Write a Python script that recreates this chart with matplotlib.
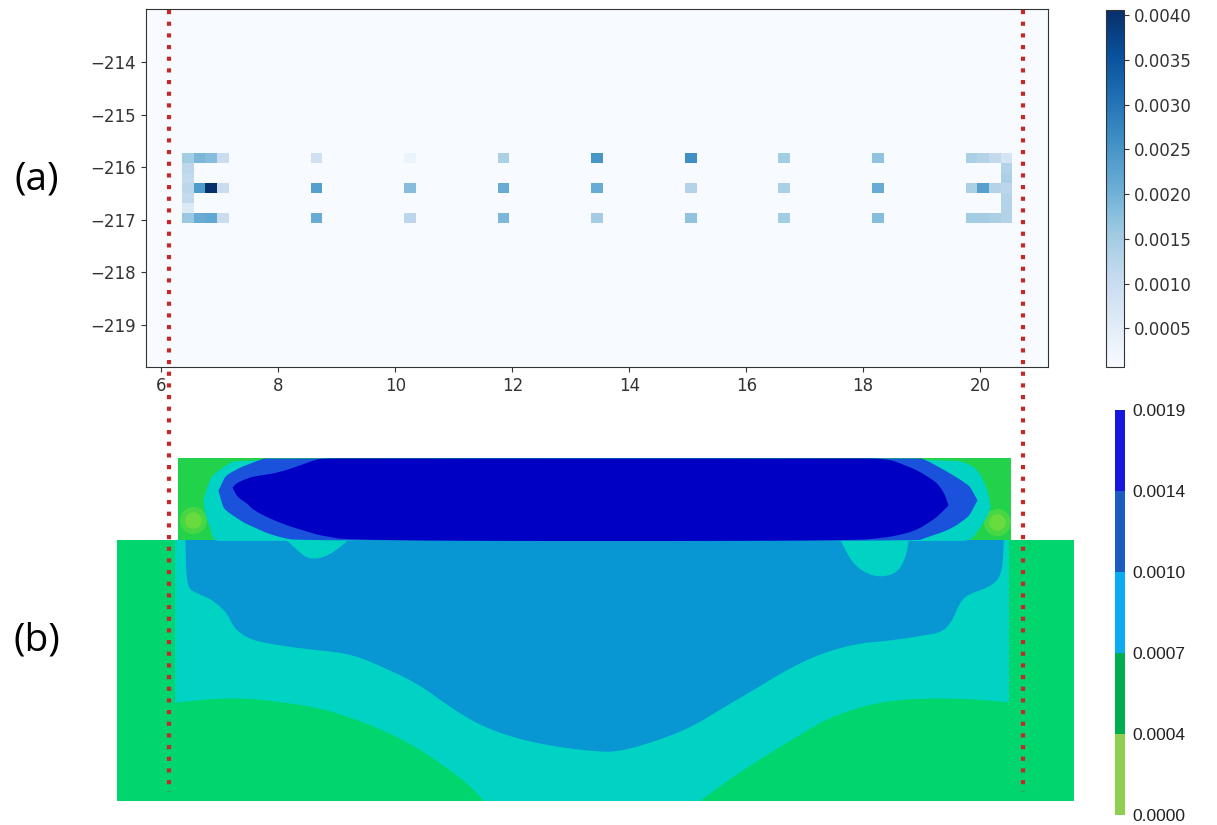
import numpy as np
import matplotlib
matplotlib.use('Agg')
import matplotlib.pyplot as plt
from matplotlib.colors import ListedColormap, BoundaryNorm
from matplotlib.lines import Line2D
from matplotlib.transforms import blended_transform_factory
from matplotlib.ticker import FormatStrFormatter
import matplotlib.cm as cm

# ---------------- (a) measured cells ----------------
row_y = [-215.82, -216.01, -216.20, -216.39, -216.58, -216.77, -216.96]
cell_w = 0.2
row_h = 0.19

# left "E" shaped group (rows top -> bottom, 4 columns)
e_x = [6.45, 6.65, 6.85, 7.05]
e_vals = [[0.0015, 0.0019, 0.0018, 0.0010],
          [0.0012, 0, 0, 0],
          [0.0011, 0, 0, 0],
          [0.0012, 0.0024, 0.0041, 0.0010],
          [0.0011, 0, 0, 0],
          [0.0006, 0, 0, 0],
          [0.0016, 0.0021, 0.0022, 0.0010]]

# single cell columns (top / middle / bottom row)
col_x = [8.65, 10.25, 11.85, 13.45, 15.05, 16.65, 18.25]
col_top = [0.0009, 0.0003, 0.0014, 0.0025, 0.0026, 0.0015, 0.0017]
col_mid = [0.0023, 0.0018, 0.0021, 0.0021, 0.0013, 0.0014, 0.0021]
col_bot = [0.0021, 0.0012, 0.0019, 0.0015, 0.0017, 0.0015, 0.0018]

# right "3" shaped group
three_x = [19.85, 20.05, 20.25, 20.45]
three_vals = [[0.0014, 0.0013, 0.0011, 0.0008],
              [0, 0, 0, 0.0013],
              [0, 0, 0, 0.0014],
              [0.0014, 0.0023, 0.0013, 0.0012],
              [0, 0, 0, 0.0013],
              [0, 0, 0, 0.0013],
              [0.0015, 0.0015, 0.0014, 0.0013]]

heat_vmin, heat_vmax = 0.00007, 0.00406
heat_ticks = [0.0005, 0.0010, 0.0015, 0.0020, 0.0025, 0.0030, 0.0035, 0.0040]

# ---------------- (b) simulated section, region outlines ----------------
lower_x = [5.235, 21.595]
interface_y = 4.44
top_y = 5.85
upper_x = [6.279, 20.532]
strip_l = [5.235, 6.228]
strip_r = [20.49, 21.595]

blue_x = [6.40, 6.416, 6.604, 6.878, 7.117, 7.220, 7.459, 7.802, 8.366, 9.221,
          9.792, 10.369, 10.933, 11.498, 12.354, 13.50, 13.896, 14.477, 15.043,
          15.607, 16.189, 16.754, 17.318, 17.899, 18.464, 19.029, 19.319, 19.490,
          19.610, 19.712, 19.884, 20.123, 20.294, 20.380, 20.397]
blue_bottom = [4.44, 3.644, 3.541, 3.422, 3.199, 2.960, 2.772, 2.686, 2.600, 2.515,
               2.275, 2.002, 1.591, 1.249, 0.975, 0.821, 0.855, 1.027, 1.249,
               1.591, 1.933, 2.275, 2.532, 2.686, 2.737, 2.823, 2.874, 3.028,
               3.302, 3.473, 3.559, 3.644, 3.764, 3.986, 4.44]

dome_l_x = [6.10, 6.364, 6.946, 7.511, 8.076, 8.658, 9.221, 9.792, 10.369, 10.933, 11.224, 11.498]
dome_l_top = [1.660, 1.690, 1.745, 1.745, 1.677, 1.591, 1.420, 1.198, 0.907, 0.513, 0.291, 0.0]
dome_r_x = [15.214, 15.607, 16.189, 16.754, 17.318, 17.899, 18.464, 19.029, 19.610, 20.174, 20.465, 20.60]
dome_r_top = [0.0, 0.291, 0.684, 1.027, 1.369, 1.591, 1.711, 1.745, 1.745, 1.711, 1.677, 1.677]

bump_l_x = [8.144, 8.315, 8.486, 8.708, 8.930, 9.170]
bump_l_bottom = [4.44, 4.277, 4.140, 4.140, 4.243, 4.44]
bump_r_x = [17.609, 17.780, 17.997, 18.293, 18.584, 18.721, 18.772]
bump_r_bottom = [4.44, 4.106, 3.901, 3.815, 3.901, 4.157, 4.44]

teal_x = [6.707, 6.741, 6.826, 6.878, 7.083, 7.288, 19.486, 19.829, 19.948, 20.000, 20.123, 20.174]
teal_top = [5.133, 5.270, 5.509, 5.577, 5.731, 5.85, 5.85, 5.748, 5.646, 5.577, 5.304, 5.013]
teal_bottom = [5.133, 4.876, 4.654, 4.44, 4.44, 4.44, 4.44, 4.44, 4.602, 4.671, 4.876, 5.013]

ring_x = [6.963, 7.032, 7.083, 7.340, 7.425, 7.733, 7.767, 8.024, 8.366, 18.922, 19.024,
          19.486, 19.777, 19.829, 19.948]
ring_top = [5.304, 5.441, 5.560, 5.697, 5.731, 5.85, 5.85, 5.85, 5.85, 5.85, 5.85,
            5.594, 5.406, 5.355, 5.133]
ring_bottom = [5.304, 5.047, 4.962, 4.790, 4.739, 4.602, 4.585, 4.500, 4.44, 4.44, 4.482,
               4.636, 4.842, 4.910, 5.133]

core_x = [7.203, 7.289, 7.459, 7.562, 8.024, 8.589, 8.708, 9.273, 17.742, 18.409, 18.717,
          18.922, 19.145, 19.264, 19.384, 19.452]
core_top = [5.355, 5.441, 5.509, 5.543, 5.612, 5.817, 5.85, 5.85, 5.85, 5.85, 5.731,
            5.646, 5.509, 5.423, 5.252, 5.047]
core_bottom = [5.355, 5.184, 5.081, 4.962, 4.739, 4.568, 4.534, 4.44, 4.44, 4.500, 4.568,
               4.636, 4.773, 4.859, 4.979, 5.047]

spot_x = [6.537, 20.29]
spot_y = [4.79, 4.756]

legend_bounds = [0.0, 0.0004, 0.0007, 0.0010, 0.0014, 0.0019]
legend_colors = ['#8fcf50', '#00ae50', '#0aaeef', '#1b5cc2', '#1616e0']

# dashed guide lines (x in panel (a) units)
guide_x = [6.13, 20.73]

# field colours
c_navy = '#0000c4'
c_ring = '#1a52dc'
c_blue = '#0997d4'
c_teal = '#00d3c3'
c_green = '#00d56e'
c_green_up = '#22d24a'
c_yg = '#8ee03a'


def smooth(x, *ys, n=3):
    # chaikin corner cutting, end points kept
    x = np.asarray(x, float)
    ys = [np.asarray(y, float) for y in ys]
    for _ in range(n):
        nx = [x[0]]
        nys = [[y[0]] for y in ys]
        for i in range(len(x) - 1):
            nx += [0.75 * x[i] + 0.25 * x[i + 1], 0.25 * x[i] + 0.75 * x[i + 1]]
            for k, y in enumerate(ys):
                nys[k] += [0.75 * y[i] + 0.25 * y[i + 1], 0.25 * y[i] + 0.75 * y[i + 1]]
        nx.append(x[-1])
        for k, y in enumerate(ys):
            nys[k].append(y[-1])
        x = np.array(nx)
        ys = [np.array(y) for y in nys]
    return [x] + ys


fig = plt.figure(figsize=(12.17, 8.25), dpi=100)

# ---------------- panel (a) ----------------
ax1 = fig.add_axes([0.1197, 0.5552, 0.7414, 0.4335])
grid = np.zeros((len(row_y), 71))
for r in range(len(row_y)):
    for c, x in enumerate(e_x):
        grid[r, int(round((x - 6.45) / cell_w))] = e_vals[r][c]
    for c, x in enumerate(three_x):
        grid[r, int(round((x - 6.45) / cell_w))] = three_vals[r][c]
for i, x in enumerate(col_x):
    j = int(round((x - 6.45) / cell_w))
    grid[0, j] = col_top[i]
    grid[3, j] = col_mid[i]
    grid[6, j] = col_bot[i]

x_edges = 6.35 + cell_w * np.arange(72)
y_edges = np.array(row_y + [row_y[-1] - row_h]) + row_h / 2
mesh = ax1.pcolormesh(x_edges, y_edges[::-1], np.ma.masked_equal(grid[::-1], 0),
                      cmap='Blues', vmin=heat_vmin, vmax=heat_vmax)
ax1.set_facecolor(plt.cm.Blues(0.0))
ax1.set_xlim(5.73, 21.16)
ax1.set_ylim(-219.8, -213.0)
ax1.set_xticks([6, 8, 10, 12, 14, 16, 18, 20])
ax1.set_yticks([-214, -215, -216, -217, -218, -219])
ax1.tick_params(labelsize=12, colors='#333333')
for s in ax1.spines.values():
    s.set_color('#333333')

cax1 = fig.add_axes([0.9085, 0.5555, 0.0153, 0.4324])
cb1 = fig.colorbar(mesh, cax=cax1, ticks=heat_ticks)
cb1.ax.yaxis.set_major_formatter(FormatStrFormatter('%.4f'))
cb1.ax.tick_params(labelsize=12, colors='#333333')
cb1.outline.set_edgecolor('#333333')

# ---------------- panel (b) ----------------
ax2 = fig.add_axes([0.0961, 0.0303, 0.7858, 0.4145])
ax2.set_xlim(lower_x)
ax2.set_ylim(0, top_y)
ax2.axis('off')

kw = dict(linewidth=0)
base = -0.2  # below the visible bottom, clipped by the axes
ax2.fill_between(lower_x, base, interface_y, color=c_teal, **kw)
ax2.fill_between([strip_l[0] - 0.2, strip_l[1]], base, interface_y, color=c_green, **kw)
ax2.fill_between([strip_r[0], strip_r[1] + 0.2], base, interface_y, color=c_green, **kw)
sx, sy = smooth(dome_l_x, dome_l_top)
ax2.fill_between(sx, base, sy, color=c_green, **kw)
sx, sy = smooth(dome_r_x, dome_r_top)
ax2.fill_between(sx, base, sy, color=c_green, **kw)
sx, sy = smooth(blue_x, blue_bottom)
ax2.fill_between(sx, sy, interface_y + 0.02, color=c_blue, **kw)
sx, sy = smooth(bump_l_x, bump_l_bottom)
ax2.fill_between(sx, sy, interface_y + 0.02, color=c_teal, **kw)
sx, sy = smooth(bump_r_x, bump_r_bottom)
ax2.fill_between(sx, sy, interface_y + 0.02, color=c_teal, **kw)

ax2.fill_between(upper_x, interface_y, top_y + 0.2, color=c_green_up, **kw)
ax2.scatter(spot_x, spot_y, s=380, color=c_yg, alpha=0.35, linewidths=0)
ax2.scatter(spot_x, spot_y, s=140, color=c_yg, alpha=0.5, linewidths=0)
sx, sb, st = smooth(teal_x, teal_bottom, teal_top)
ax2.fill_between(sx, sb, st, color=c_teal, **kw)
sx, sb, st = smooth(ring_x, ring_bottom, ring_top)
ax2.fill_between(sx, sb, st, color=c_ring, **kw)
sx, sb, st = smooth(core_x, core_bottom, core_top)
ax2.fill_between(sx, sb, st, color=c_navy, **kw)

cax2 = fig.add_axes([0.9162, 0.0121, 0.0082, 0.4909])
legend_cmap = ListedColormap(legend_colors)
legend_norm = BoundaryNorm(legend_bounds, legend_cmap.N)
cb2 = fig.colorbar(cm.ScalarMappable(norm=legend_norm, cmap=legend_cmap), cax=cax2,
                   ticks=legend_bounds, spacing='uniform')
cb2.outline.set_visible(False)
cb2.ax.yaxis.set_major_formatter(FormatStrFormatter('%.4f'))
cb2.ax.tick_params(length=0, pad=5, labelsize=12.5, colors='#222222')
for t in cb2.ax.get_yticklabels():
    t.set_fontfamily('Liberation Sans')

# red dotted guide lines through both panels
tr = blended_transform_factory(ax1.transData, fig.transFigure)
for gx in guide_x:
    fig.add_artist(Line2D([gx, gx], [0.988, 0.04], transform=tr, color='#c62828',
                          lw=3, linestyle=(0, (1, 1.8)), zorder=10))

fig.text(0.030, 0.782, '(a)', fontsize=28, family='Open Sans', ha='center', va='center')
fig.text(0.030, 0.224, '(b)', fontsize=28, family='Open Sans', ha='center', va='center')

fig.savefig('out.png', dpi=100)
